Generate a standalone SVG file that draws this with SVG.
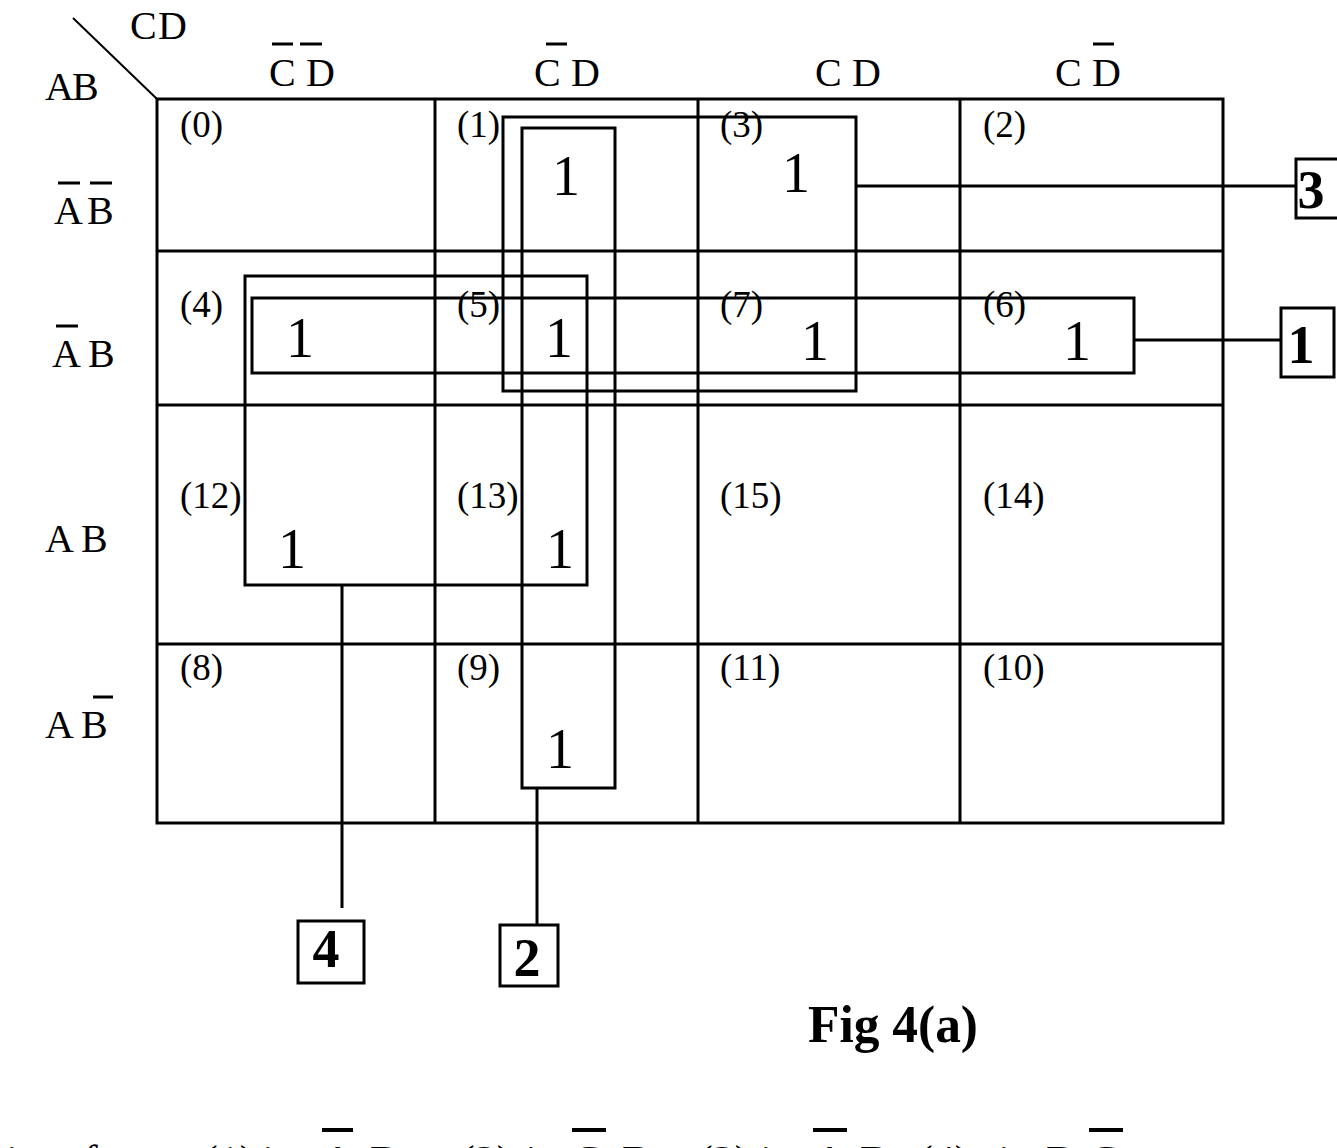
<svg xmlns="http://www.w3.org/2000/svg" width="1337" height="1148" viewBox="0 0 1337 1148">
<style>
.ln{stroke:#000;stroke-width:3;fill:none}
.thin{stroke:#000;stroke-width:2;fill:none}
.hd{font-family:"Liberation Serif","Times New Roman",serif;font-size:40px;fill:#000}
.cn{font-family:"Liberation Serif","Times New Roman",serif;font-size:37px;fill:#000}
.one{font-family:"Liberation Serif","Times New Roman",serif;font-size:56px;fill:#000;text-anchor:middle}
.bx{font-family:"Liberation Serif","Times New Roman",serif;font-size:54px;font-weight:bold;fill:#000;text-anchor:middle}
.bar{stroke:#000;stroke-width:3}
.cap{font-family:"Liberation Serif","Times New Roman",serif;font-size:52px;font-weight:bold;fill:#000}
.bt{font-family:"Liberation Serif","Times New Roman",serif;font-size:44px;fill:#000}
</style>
<rect width="1337" height="1148" fill="#fff"/>
<g id="grid">
<rect class="ln" x="157" y="99" width="1066" height="724"/>
<line class="ln" x1="435" y1="99" x2="435" y2="823"/>
<line class="ln" x1="698" y1="99" x2="698" y2="823"/>
<line class="ln" x1="960" y1="99" x2="960" y2="823"/>
<line class="ln" x1="157" y1="251" x2="1223" y2="251"/>
<line class="ln" x1="157" y1="405" x2="1223" y2="405"/>
<line class="ln" x1="157" y1="644" x2="1223" y2="644"/>
<line class="thin" x1="73" y1="18" x2="157" y2="99"/>
</g>
<g id="headers">
<text class="hd" x="130" y="39">C</text><text class="hd" x="158" y="39">D</text>
<text class="hd" x="45" y="100">A</text><text class="hd" x="72" y="100">B</text>
<text class="hd" x="269" y="86">C</text><text class="hd" x="306" y="86">D</text>
<line class="bar" x1="272" y1="44" x2="293" y2="44"/><line class="bar" x1="300" y1="44" x2="322" y2="44"/>
<text class="hd" x="534" y="86">C</text><text class="hd" x="571" y="86">D</text>
<line class="bar" x1="546" y1="44" x2="567" y2="44"/>
<text class="hd" x="815" y="86">C</text><text class="hd" x="852" y="86">D</text>
<text class="hd" x="1055" y="86">C</text><text class="hd" x="1092" y="86">D</text>
<line class="bar" x1="1093" y1="44" x2="1114" y2="44"/>
<text class="hd" x="54" y="224">A</text><text class="hd" x="87" y="224">B</text>
<line class="bar" x1="58" y1="183" x2="80" y2="183"/><line class="bar" x1="90" y1="183" x2="112" y2="183"/>
<text class="hd" x="52" y="367">A</text><text class="hd" x="88" y="367">B</text>
<line class="bar" x1="56" y1="326" x2="78" y2="326"/>
<text class="hd" x="45" y="552">A</text><text class="hd" x="81" y="552">B</text>
<text class="hd" x="45" y="738">A</text><text class="hd" x="81" y="738">B</text>
<line class="bar" x1="93" y1="697" x2="113" y2="697"/>
</g>
<g id="cells">
<text class="cn" x="180" y="137">(0)</text>
<text class="cn" x="457" y="137">(1)</text>
<text class="cn" x="720" y="137">(3)</text>
<text class="cn" x="983" y="137">(2)</text>
<text class="cn" x="180" y="317">(4)</text>
<text class="cn" x="457" y="317">(5)</text>
<text class="cn" x="720" y="317">(7)</text>
<text class="cn" x="983" y="317">(6)</text>
<text class="cn" x="180" y="508">(12)</text>
<text class="cn" x="457" y="508">(13)</text>
<text class="cn" x="720" y="508">(15)</text>
<text class="cn" x="983" y="508">(14)</text>
<text class="cn" x="180" y="680">(8)</text>
<text class="cn" x="457" y="680">(9)</text>
<text class="cn" x="720" y="680">(11)</text>
<text class="cn" x="983" y="680">(10)</text>
<text class="one" x="566" y="195">1</text>
<text class="one" x="796" y="192">1</text>
<text class="one" x="300" y="357">1</text>
<text class="one" x="559" y="357">1</text>
<text class="one" x="815" y="360">1</text>
<text class="one" x="1077" y="360">1</text>
<text class="one" x="292" y="568">1</text>
<text class="one" x="560" y="568">1</text>
<text class="one" x="560" y="768">1</text>
</g>
<g id="loop-3"><rect class="ln" x="503" y="117" width="353" height="274"/></g>
<g id="loop-2"><rect class="ln" x="522" y="128" width="93" height="660"/></g>
<g id="loop-4"><rect class="ln" x="245" y="276" width="342" height="309"/></g>
<g id="loop-1"><rect class="ln" x="252" y="298" width="882" height="75"/></g>
<g id="connectors">
<line class="ln" x1="856" y1="186" x2="1296" y2="186"/>
<line class="ln" x1="1134" y1="340" x2="1281" y2="340"/>
<line class="ln" x1="537" y1="788" x2="537" y2="925"/>
<line class="ln" x1="342" y1="585" x2="342" y2="908"/>
</g>
<g id="box-3"><rect class="ln" x="1296" y="159" width="50" height="59"/><text class="bx" x="1311" y="208">3</text></g>
<g id="box-1"><rect class="ln" x="1281" y="308" width="53" height="69"/><text class="bx" x="1301" y="363">1</text></g>
<g id="box-2"><rect class="ln" x="500" y="925" width="58" height="61"/><text class="bx" x="527" y="976">2</text></g>
<g id="box-4"><rect class="ln" x="298" y="921" width="66" height="62"/><text class="bx" x="326" y="967">4</text></g>
<g id="caption">
<text class="cap" x="808" y="1042" textLength="170" lengthAdjust="spacingAndGlyphs">Fig 4(a)</text>
</g>
<g id="bottom-text">
<text class="bt" y="1176"><tspan x="6">ions</tspan><tspan x="83">for</tspan><tspan x="203">(1)</tspan><tspan x="262">is</tspan><tspan x="322">A</tspan><tspan x="370">B</tspan><tspan x="403">,</tspan><tspan x="460">(2)</tspan><tspan x="525">is</tspan><tspan x="572">C</tspan><tspan x="622">D</tspan><tspan x="656">,</tspan><tspan x="698">(3)</tspan><tspan x="760">is</tspan><tspan x="814">A</tspan><tspan x="860">D</tspan><tspan x="893">,</tspan><tspan x="918">(4)</tspan><tspan x="998">is</tspan><tspan x="1046">B</tspan><tspan x="1089">C</tspan></text>
<line x1="322" y1="1130" x2="353" y2="1130" stroke="#000" stroke-width="4"/>
<line x1="572" y1="1130" x2="606" y2="1130" stroke="#000" stroke-width="4"/>
<line x1="813" y1="1130" x2="847" y2="1130" stroke="#000" stroke-width="4"/>
<line x1="1089" y1="1130" x2="1123" y2="1130" stroke="#000" stroke-width="4"/>
</g>
</svg>
